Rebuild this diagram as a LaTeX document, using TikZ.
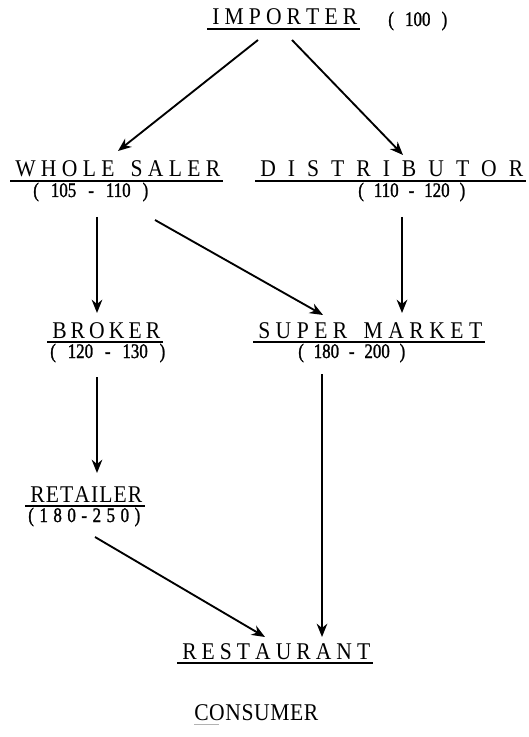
\documentclass[tikz,border=0pt]{standalone}
\usepackage{fontspec}
\setmainfont{Liberation Serif}
\usetikzlibrary{arrows.meta,calc}
\newfontfamily\wordfont[FakeStretch=0.9]{Liberation Serif}
\newfontfamily\numfont[FakeStretch=0.82,FakeBold=1.2]{Liberation Serif}
\makeatletter
\def\sprd#1{\sprd@a#1\@nil}
\def\sprd@a#1{#1\sprd@b}
\def\sprd@b#1{\ifx\@nil#1\else\hfil#1\expandafter\sprd@b\fi}
\makeatother
\newlength\pxu \setlength\pxu{0.75pt}
\newcommand\word[2]{\makebox[#1\pxu][s]{\sprd{#2}}}
\newcommand\nums[2]{\makebox[#1\pxu][s]{\numfont #2}}
\tikzset{
  lbl/.style={inner sep=0pt, anchor=base west, font=\wordfont\fontsize{18}{20}\selectfont},
  num/.style={inner sep=0pt, anchor=base west, font=\fontsize{15.5}{18}\selectfont},
  ul/.style={line width=0.8pt},
  arr/.style={line width=1.4pt, -{Stealth[length=10pt,width=8pt]}}
}
\begin{document}
\begin{tikzpicture}[x=0.75pt,y=-0.75pt]
\useasboundingbox[fill=white] (0,0) rectangle (528,737);
% labels
\node[lbl] (imp) at (212,25) {\word{145}{IMPORTER}};
\node[num] (impn) at (388,26) {\nums{59}{( 100 )}};
\node[lbl] (ws) at (15,177) {\word{205}{WHOLE~SALER}};
\node[num] (wsn) at (33,197) {\nums{115}{( 105 - 110 )}};
\node[lbl] (dist) at (260,177) {\word{263}{DISTRIBUTOR}};
\node[num] (distn) at (358,197) {\nums{107}{( 110 - 120 )}};
\node[lbl] (bro) at (52,338) {\word{108}{BROKER}};
\node[num] (bron) at (50,358) {\nums{115}{( 120 - 130 )}};
\node[lbl] (sm) at (258,338) {\word{224}{SUPER~MARKET}};
\node[num] (smn) at (298,358) {\nums{107}{( 180 - 200 )}};
\node[lbl] (ret) at (30,502) {\word{112}{RETAILER}};
\node[num] (retn) at (28,522) {\numfont\word{112}{(180-250)}};
\node[lbl] (rest) at (182,659) {\word{188}{RESTAURANT}};
\node[lbl] (cons) at (194,720) {\word{124}{CONSUMER}};
% underlines
\foreach \n in {imp,ws,dist,bro,sm,ret,rest}
  \draw[ul] ($(\n.base west)+(-5,4)$) -- ($(\n.base east)+(2,4)$);
\draw[line width=0.5pt,gray!60] ($(cons.base west)+(0,4)$) -- ($(cons.base west)+(25,4)$);
% connector end points
\coordinate (a1s) at (258,40);  \coordinate (a1e) at (118,151);
\coordinate (a2s) at (292,40);  \coordinate (a2e) at (403,155);
\coordinate (a3s) at (97,217);  \coordinate (a3e) at (97,313);
\coordinate (a4s) at (155,220); \coordinate (a4e) at (323,315);
\coordinate (a5s) at (402,217); \coordinate (a5e) at (402,313);
\coordinate (a6s) at (97,377);  \coordinate (a6e) at (97,473);
\coordinate (a7s) at (322,374); \coordinate (a7e) at (322,637);
\coordinate (a8s) at (95,537);  \coordinate (a8e) at (265,637);
\foreach \i in {1,...,8} \draw[arr] (a\i s) -- (a\i e);
\end{tikzpicture}
\end{document}
